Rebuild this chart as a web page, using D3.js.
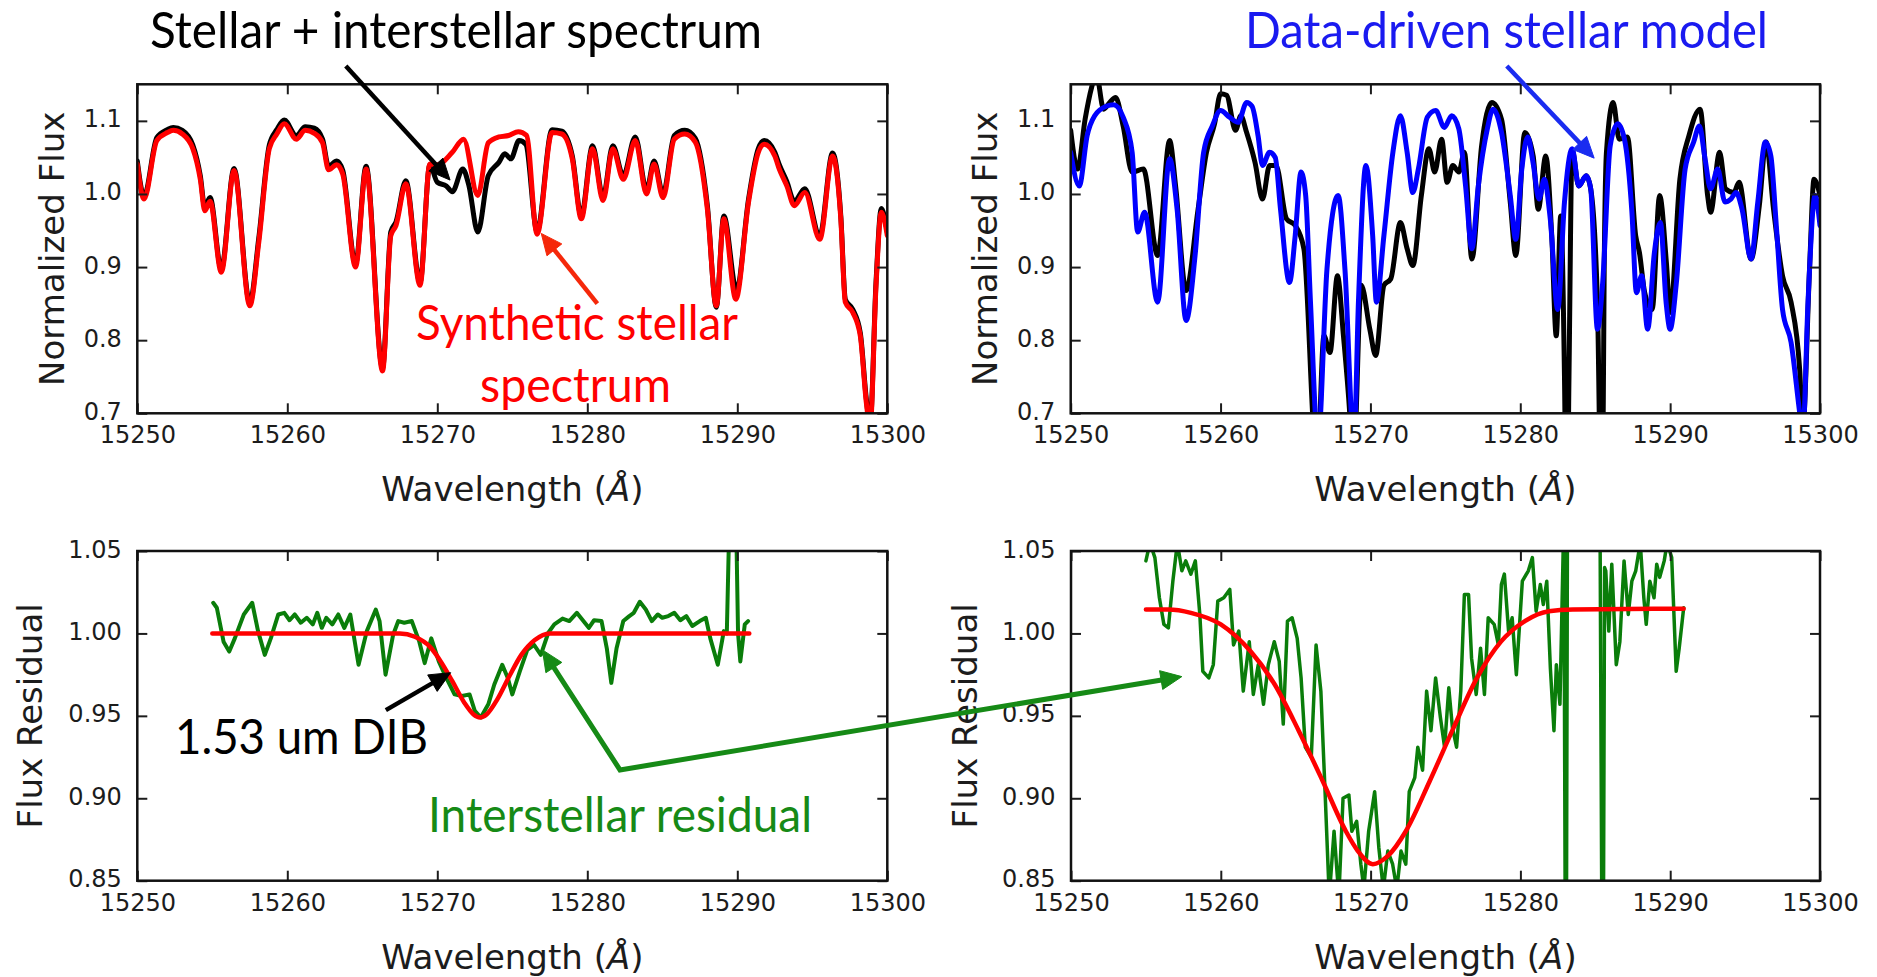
<!DOCTYPE html>
<html>
<head>
<meta charset="utf-8">
<script src="https://cdnjs.cloudflare.com/ajax/libs/d3/7.8.5/d3.min.js"></script>
<style>
  html, body { margin: 0; padding: 0; background: #ffffff; }
  svg { display: block; }
  .axis-title { font-family: "DejaVu Sans", sans-serif; font-size: 34px; fill: #1c1c1c; }
  .note { font-family: Lato, "Open Sans", sans-serif; font-weight: 400; }
</style>
</head>
<body>
<svg id="fig" width="1877" height="977"></svg>
<script>
// ---------------------------------------------------------------
// Wavelength axis shared by all four panels
const waveDomain = [15250, 15300];
const waveTicks = [15250, 15260, 15270, 15280, 15290, 15300];
const fluxTicks = [0.7, 0.8, 0.9, 1.0, 1.1];
const residTicks = [0.85, 0.90, 0.95, 1.00, 1.05];

// Panel A: observed stellar + interstellar spectrum (black) and synthetic stellar spectrum (red)
const observedA = [
  [15250.0,1.045],[15250.45,0.997],[15251.3,1.077],[15252.0,1.088],[15252.4,1.091],[15253.0,1.087],
  [15253.7,1.067],[15254.2,1.025],[15254.5,0.982],[15254.85,0.995],[15255.6,0.897],[15256.45,1.035],
  [15257.5,0.851],[15258.1,0.94],[15258.8,1.067],[15259.3,1.088],[15259.8,1.101],[15260.6,1.08],
  [15261.2,1.092],[15261.8,1.09],[15262.35,1.075],[15262.75,1.038],[15263.3,1.045],[15263.7,1.032],
  [15264.55,0.904],[15265.25,1.038],[15266.35,0.762],[15266.9,0.948],[15267.25,0.962],[15267.9,1.018],
  [15268.85,0.879],[15269.5,1.04],[15270.0,1.016],[15270.6,1.011],[15271.0,1.003],[15271.7,1.034],
  [15272.1,1.012],[15272.7,0.948],[15273.4,1.025],[15274.1,1.043],[15274.5,1.055],[15274.9,1.048],
  [15275.45,1.073],[15275.9,1.068],[15276.65,0.949],[15277.65,1.088],[15278.3,1.086],[15279.0,1.052],
  [15279.6,0.97],[15280.35,1.066],[15281.05,0.996],[15281.7,1.066],[15282.4,1.025],[15283.2,1.078],
  [15283.95,1.005],[15284.45,1.045],[15285.05,1.0],[15285.8,1.08],[15286.5,1.087],[15287.2,1.076],
  [15288.0,0.985],[15288.6,0.845],[15289.1,0.97],[15289.95,0.868],[15290.75,0.993],[15291.4,1.062],
  [15291.8,1.073],[15292.5,1.057],[15292.8,1.04],[15293.3,1.017],[15293.8,0.99],[15294.5,1.007],
  [15295.5,0.943],[15296.35,1.056],[15296.9,0.97],[15297.2,0.856],[15297.7,0.842],[15298.2,0.81],
  [15298.6,0.72],[15298.85,0.685],[15299.25,0.88],[15299.6,0.98],[15300.0,0.948]
];
const syntheticA = [
  [15250.0,1.041],[15250.45,0.993],[15251.3,1.073],[15252.0,1.084],[15252.4,1.087],[15253.0,1.082],
  [15253.7,1.062],[15254.2,1.02],[15254.5,0.977],[15254.85,0.99],[15255.6,0.893],[15256.45,1.032],
  [15257.5,0.847],[15258.1,0.934],[15258.8,1.062],[15259.3,1.082],[15259.8,1.096],[15260.6,1.075],
  [15261.2,1.087],[15261.8,1.083],[15262.35,1.07],[15262.75,1.033],[15263.3,1.04],[15263.7,1.027],
  [15264.55,0.90],[15265.25,1.034],[15266.35,0.758],[15266.9,0.943],[15267.25,0.957],[15267.9,1.014],
  [15268.85,0.875],[15269.5,1.041],[15270.0,1.04],[15271.0,1.057],[15271.75,1.075],[15272.7,0.998],
  [15273.4,1.07],[15274.1,1.078],[15274.75,1.08],[15275.4,1.085],[15275.95,1.08],[15276.65,0.945],
  [15277.65,1.084],[15278.3,1.082],[15279.0,1.048],[15279.6,0.966],[15280.35,1.062],[15281.05,0.991],
  [15281.7,1.062],[15282.4,1.02],[15283.2,1.073],[15283.95,1.0],[15284.45,1.041],[15285.05,0.995],
  [15285.8,1.075],[15286.5,1.082],[15287.2,1.071],[15288.0,0.98],[15288.6,0.847],[15289.1,0.966],
  [15289.9,0.856],[15290.75,0.989],[15291.4,1.057],[15291.8,1.068],[15292.5,1.052],[15292.8,1.034],
  [15293.3,1.011],[15293.8,0.984],[15294.5,1.002],[15295.5,0.938],[15296.35,1.052],[15296.9,0.966],
  [15297.2,0.852],[15297.7,0.838],[15298.2,0.806],[15298.6,0.715],[15298.85,0.68],[15299.25,0.875],
  [15299.6,0.975],[15300.0,0.943]
];

// Panel B: observed spectrum (black) and data-driven stellar model (blue)
const observedB = [
  [15250.0,1.087],[15250.46,1.034],[15250.96,1.102],[15251.4,1.146],[15251.7,1.165],[15252.2,1.116],
  [15252.6,1.125],[15253.0,1.132],[15253.5,1.093],[15254.1,1.03],[15254.85,1.034],[15255.8,0.916],
  [15256.6,1.073],[15257.0,1.011],[15257.7,0.868],[15258.5,0.979],[15259.06,1.057],[15259.6,1.096],
  [15260.0,1.137],[15260.4,1.135],[15261.0,1.087],[15261.35,1.107],[15261.74,1.084],[15262.3,1.043],
  [15262.8,0.993],[15263.27,1.039],[15263.7,1.039],[15264.4,0.966],[15264.98,0.957],[15265.56,0.925],
  [15266.14,0.70],[15266.4,0.60],[15266.9,0.806],[15267.3,0.783],[15267.8,0.888],[15268.2,0.806],
  [15268.62,0.70],[15268.85,0.62],[15269.39,0.875],[15269.96,0.815],[15270.35,0.779],[15270.9,0.875],
  [15271.36,0.884],[15272.0,0.961],[15272.45,0.925],[15272.83,0.902],[15273.4,0.998],[15273.9,1.062],
  [15274.29,1.03],[15274.75,1.075],[15275.12,1.016],[15275.5,1.039],[15275.9,1.03],[15276.27,1.057],
  [15276.77,0.911],[15277.42,1.066],[15278.1,1.125],[15278.75,1.102],[15279.33,0.989],[15279.7,0.916],
  [15280.3,1.084],[15280.86,1.052],[15281.2,0.979],[15281.7,1.052],[15282.1,0.943],[15282.4,0.806],
  [15282.7,0.97],[15282.95,0.75],[15283.1,0.50],[15283.25,0.75],[15283.46,1.06],[15283.9,1.011],
  [15284.4,1.025],[15284.7,1.007],[15285.15,0.85],[15285.45,0.50],[15285.6,0.90],[15285.75,1.057],
  [15286.2,1.125],[15286.6,1.075],[15287.15,1.078],[15287.7,0.943],[15287.95,0.92],[15288.3,0.865],
  [15288.8,0.842],[15289.3,0.998],[15289.75,0.906],[15290.0,0.838],[15290.65,1.02],[15291.26,1.08],
  [15292.0,1.116],[15292.5,0.998],[15292.7,0.975],[15293.3,1.057],[15293.7,1.007],[15294.25,1.002],
  [15294.6,1.016],[15295.4,0.911],[15295.95,0.984],[15296.4,1.071],[15296.9,0.979],[15297.5,0.888],
  [15298.07,0.852],[15298.65,0.758],[15298.85,0.68],[15299.3,0.897],[15299.6,1.02],[15300.0,0.998]
];
const modelB = [
  [15250.0,1.057],[15250.57,1.011],[15251.1,1.08],[15251.6,1.107],[15252.37,1.12],[15252.87,1.122],
  [15253.5,1.105],[15254.1,1.057],[15254.47,0.948],[15254.93,0.975],[15255.8,0.852],[15256.6,1.048],
  [15257.1,0.979],[15257.7,0.827],[15258.3,0.916],[15258.87,1.057],[15259.45,1.093],[15260.0,1.114],
  [15260.6,1.105],[15261.17,1.098],[15261.74,1.125],[15262.1,1.12],[15262.5,1.08],[15262.8,1.039],
  [15263.27,1.057],[15263.65,1.05],[15264.0,0.979],[15264.6,0.879],[15264.98,0.943],[15265.37,1.03],
  [15265.68,0.998],[15266.0,0.852],[15266.5,0.66],[15267.1,0.897],[15267.85,0.998],[15268.3,0.897],
  [15268.9,0.66],[15269.2,0.852],[15269.7,1.039],[15270.15,0.943],[15270.4,0.852],[15270.9,0.943],
  [15271.5,1.057],[15272.0,1.107],[15272.45,1.057],[15272.83,1.002],[15273.2,1.034],[15273.8,1.105],
  [15274.36,1.114],[15274.93,1.091],[15275.43,1.107],[15275.9,1.089],[15276.35,1.011],[15276.77,0.925],
  [15277.2,1.011],[15277.8,1.089],[15278.18,1.116],[15278.75,1.084],[15279.33,0.998],[15279.7,0.938],
  [15280.1,1.034],[15280.5,1.078],[15280.85,1.043],[15281.25,0.993],[15281.6,1.02],[15282.0,0.966],
  [15282.5,0.842],[15282.95,0.989],[15283.46,1.062],[15283.9,1.011],[15284.4,1.025],[15284.7,1.007],
  [15285.15,0.815],[15285.5,0.879],[15286.0,1.066],[15286.5,1.096],[15286.95,1.075],[15287.45,0.975],
  [15287.75,0.865],[15288.1,0.888],[15288.5,0.815],[15288.95,0.92],[15289.35,0.961],[15289.73,0.852],
  [15290.0,0.815],[15290.4,0.875],[15291.0,1.034],[15291.57,1.071],[15291.95,1.093],[15292.33,1.048],
  [15292.7,1.007],[15293.17,1.034],[15293.66,0.989],[15294.05,0.993],[15294.4,1.002],[15294.8,0.979],
  [15295.4,0.911],[15295.85,0.989],[15296.35,1.071],[15296.72,1.052],[15297.1,0.952],[15297.5,0.842],
  [15298.07,0.797],[15298.65,0.70],[15298.85,0.67],[15299.2,0.852],[15299.67,0.998],[15300.0,0.957]
];

// Panel C: residual after dividing by the synthetic spectrum, with the DIB fit
const residualC = [
  [15255.06,1.0186],[15255.3,1.0156],[15255.75,0.995],[15256.13,0.989],[15256.5,0.997],[15257.1,1.0115],
  [15257.66,1.0186],[15258.05,1.0014],[15258.5,0.987],[15258.9,0.997],[15259.4,1.0115],[15259.8,1.0125],
  [15260.15,1.008],[15260.5,1.0115],[15260.9,1.0065],[15261.3,1.0095],[15261.7,1.0055],[15262.0,1.0125],
  [15262.3,1.0034],[15262.6,1.0095],[15263.0,1.0055],[15263.4,1.0115],[15263.8,1.0034],[15264.2,1.0115],
  [15264.75,0.981],[15265.3,1.0014],[15265.9,1.0145],[15266.15,1.0075],[15266.55,0.975],[15267.05,0.999],
  [15267.4,1.0075],[15267.8,1.0065],[15268.3,1.0075],[15268.8,0.995],[15269.16,0.982],[15269.6,0.997],
  [15270.1,0.983],[15270.6,0.973],[15271.15,0.963],[15271.65,0.962],[15272.15,0.963],[15272.5,0.953],
  [15272.9,0.949],[15273.4,0.957],[15273.8,0.969],[15274.33,0.981],[15274.7,0.973],[15275.0,0.963],
  [15275.5,0.977],[15276.0,0.990],[15276.45,0.993],[15276.9,0.987],[15277.4,1.0004],[15277.8,1.0055],
  [15278.35,1.009],[15278.8,1.0075],[15279.3,1.0125],[15279.7,1.008],[15280.1,1.0034],[15280.45,1.008],
  [15280.95,1.0075],[15281.3,0.991],[15281.6,0.970],[15281.95,0.991],[15282.4,1.0075],[15282.8,1.0105],
  [15283.1,1.0125],[15283.5,1.0192],[15283.9,1.0145],[15284.3,1.0075],[15284.7,1.0115],[15285.0,1.0095],
  [15285.4,1.0105],[15285.8,1.0125],[15286.2,1.008],[15286.6,1.0105],[15287.0,1.0045],[15287.5,1.0075],
  [15287.9,1.0095],[15288.2,0.997],[15288.7,0.981],[15289.1,1.0014],[15289.3,1.0],[15289.5,1.08],
  [15289.9,1.08],[15290.05,1.0],[15290.2,0.983],[15290.5,1.0055],[15290.72,1.0075]
];
const dibFitC = [
  [15255.0,1.0],[15267.5,1.0],[15268.5,0.998],[15269.5,0.992],[15270.3,0.982],[15271.0,0.971],
  [15271.8,0.958],[15272.4,0.951],[15272.85,0.949],[15273.3,0.951],[15274.0,0.960],[15274.8,0.974],
  [15275.6,0.987],[15276.5,0.996],[15277.5,1.0],[15290.8,1.0]
];

// Panel D: residual after dividing by the data-driven model, with the DIB fit
const residualD = [
  [15255.0,1.044],[15255.27,1.055],[15255.6,1.046],[15255.9,1.0216],[15256.2,1.0055],[15256.5,1.0034],
  [15256.8,1.0317],[15257.1,1.055],[15257.4,1.038],[15257.66,1.044],[15258.0,1.036],[15258.3,1.044],
  [15258.6,1.0115],[15258.8,0.977],[15259.2,0.973],[15259.5,0.981],[15259.8,1.0196],[15260.2,1.0216],
  [15260.6,1.0267],[15260.85,0.993],[15261.2,1.0014],[15261.5,0.965],[15261.9,0.995],[15262.17,0.963],
  [15262.5,0.981],[15262.85,0.957],[15263.17,0.981],[15263.57,0.995],[15263.9,0.983],[15264.17,0.945],
  [15264.45,1.0075],[15264.76,1.0095],[15265.1,0.997],[15265.36,0.973],[15265.64,0.931],[15266.04,0.925],
  [15266.36,0.993],[15266.68,0.965],[15266.96,0.904],[15267.24,0.84],[15267.56,0.880],[15267.88,0.84],
  [15268.16,0.900],[15268.55,0.902],[15268.75,0.880],[15269.07,0.886],[15269.35,0.860],[15269.55,0.845],
  [15269.87,0.880],[15270.27,0.904],[15270.55,0.870],[15270.85,0.845],[15271.15,0.868],[15271.47,0.860],
  [15271.75,0.845],[15272.03,0.868],[15272.35,0.860],[15272.58,0.904],[15272.95,0.9125],[15273.15,0.931],
  [15273.47,0.917],[15273.74,0.965],[15274.03,0.941],[15274.34,0.973],[15274.66,0.949],[15274.94,0.931],
  [15275.22,0.967],[15275.46,0.943],[15275.74,0.931],[15276.02,0.965],[15276.26,1.0236],[15276.54,1.0236],
  [15276.74,0.985],[15277.05,0.963],[15277.34,0.991],[15277.6,0.963],[15277.85,1.0095],[15278.25,1.0055],
  [15278.53,0.993],[15278.73,1.0297],[15278.93,1.036],[15279.21,1.0014],[15279.45,1.0095],[15279.73,0.975],
  [15279.93,1.0034],[15280.13,1.0317],[15280.53,1.038],[15280.8,1.046],[15281.05,1.0135],[15281.33,1.0297],
  [15281.53,1.0176],[15281.76,1.0317],[15282.0,0.979],[15282.24,0.941],[15282.4,0.981],[15282.64,0.957],
  [15282.9,1.07],[15283.04,0.70],[15283.15,1.10],[15285.3,1.10],[15285.5,0.70],[15285.62,1.04],
  [15285.7,1.038],[15285.9,1.0014],[15286.1,1.042],[15286.4,0.981],[15286.64,0.995],[15286.92,1.044],
  [15287.2,1.0115],[15287.44,1.0317],[15287.7,1.038],[15288.0,1.055],[15288.24,1.0216],[15288.4,1.0055],
  [15288.64,1.0317],[15288.92,1.0216],[15289.1,1.042],[15289.3,1.034],[15289.6,1.044],[15289.8,1.055],
  [15290.1,1.046],[15290.4,0.977],[15290.6,0.991],[15290.9,1.0156]
];
const dibFitD = [
  [15255.0,1.0145],[15256.5,1.0145],[15258.0,1.0125],[15260.0,1.0055],[15262.0,0.989],[15263.6,0.969],
  [15265.2,0.941],[15266.8,0.9105],[15268.35,0.880],[15269.15,0.868],[15270.15,0.860],[15271.15,0.865],
  [15272.35,0.880],[15273.95,0.9105],[15275.55,0.943],[15277.1,0.973],[15278.7,0.995],[15280.3,1.0075],
  [15281.9,1.0135],[15283.5,1.0145],[15290.9,1.015]
];

// ---------------------------------------------------------------
// Layout of the four axes boxes
const panels = [
  { id: "A", left: 137.3, right: 887.3, top: 84.3, bottom: 413.3, yDomain: [0.7, 1.15],
    yTicks: fluxTicks, yFmt: ".1f", yTitle: "Normalized Flux", yTitleX: 64 },
  { id: "B", left: 1070.7, right: 1820, top: 84.3, bottom: 413.3, yDomain: [0.7, 1.15],
    yTicks: fluxTicks, yFmt: ".1f", yTitle: "Normalized Flux", yTitleX: 997 },
  { id: "C", left: 137.3, right: 887.3, top: 551, bottom: 880.7, yDomain: [0.85, 1.05],
    yTicks: residTicks, yFmt: ".2f", yTitle: "Flux Residual", yTitleX: 42 },
  { id: "D", left: 1071, right: 1820, top: 551, bottom: 880.7, yDomain: [0.85, 1.05],
    yTicks: residTicks, yFmt: ".2f", yTitle: "Flux Residual", yTitleX: 977 }
];

const series = [
  { panel: "A", data: observedA, color: "#000000", width: 5, curve: d3.curveMonotoneX },
  { panel: "A", data: syntheticA, color: "#ff0000", width: 5, curve: d3.curveMonotoneX },
  { panel: "B", data: observedB, color: "#000000", width: 5, curve: d3.curveMonotoneX },
  { panel: "B", data: modelB, color: "#0000ff", width: 5, curve: d3.curveMonotoneX },
  { panel: "C", data: residualC, color: "#0a7d0a", width: 4, curve: d3.curveLinear },
  { panel: "C", data: dibFitC, color: "#ff0000", width: 4.5, curve: d3.curveMonotoneX },
  { panel: "D", data: residualD, color: "#0a7d0a", width: 3.5, curve: d3.curveLinear },
  { panel: "D", data: dibFitD, color: "#ff0000", width: 4.5, curve: d3.curveMonotoneX }
];

const svg = d3.select("#fig");
const defs = svg.append("defs");
const scales = {};

panels.forEach(p => {
  const x = d3.scaleLinear().domain(waveDomain).range([p.left, p.right]);
  const y = d3.scaleLinear().domain(p.yDomain).range([p.bottom, p.top]);
  scales[p.id] = { x, y };

  defs.append("clipPath").attr("id", "clip" + p.id)
    .append("rect")
    .attr("x", p.left).attr("y", p.top)
    .attr("width", p.right - p.left).attr("height", p.bottom - p.top);

  const g = svg.append("g").attr("class", "panel-" + p.id);

  // spectra
  const plot = g.append("g").attr("clip-path", `url(#clip${p.id})`);
  series.filter(s => s.panel === p.id).forEach(s => {
    const line = d3.line().x(d => x(d[0])).y(d => y(d[1])).curve(s.curve);
    plot.append("path")
      .datum(s.data)
      .attr("d", line)
      .attr("fill", "none")
      .attr("stroke", s.color)
      .attr("stroke-width", s.width)
      .attr("stroke-linejoin", "round")
      .attr("stroke-linecap", "round");
  });

  // ticks pointing inward on all four sides
  const styleAxis = sel => {
    sel.attr("font-family", "DejaVu Sans, sans-serif").attr("font-size", 24).attr("color", "#1c1c1c");
    sel.select(".domain").remove();
    sel.selectAll(".tick line").attr("stroke-width", 2);
  };
  g.append("g").attr("transform", `translate(0,${p.bottom})`)
    .call(d3.axisBottom(x).tickValues(waveTicks).tickFormat(d3.format("d"))
      .tickSizeInner(-10).tickSizeOuter(0).tickPadding(13))
    .call(styleAxis);
  g.append("g").attr("transform", `translate(0,${p.top})`)
    .call(d3.axisTop(x).tickValues(waveTicks).tickFormat("")
      .tickSizeInner(-10).tickSizeOuter(0))
    .call(styleAxis);
  g.append("g").attr("transform", `translate(${p.left},0)`)
    .call(d3.axisLeft(y).tickValues(p.yTicks).tickFormat(d3.format(p.yFmt))
      .tickSizeInner(-10).tickSizeOuter(0).tickPadding(15.5))
    .call(styleAxis)
    .selectAll("text").attr("dy", "0.25em");
  g.append("g").attr("transform", `translate(${p.right},0)`)
    .call(d3.axisRight(y).tickValues(p.yTicks).tickFormat("")
      .tickSizeInner(-10).tickSizeOuter(0))
    .call(styleAxis);

  // frame
  g.append("rect")
    .attr("x", p.left).attr("y", p.top)
    .attr("width", p.right - p.left).attr("height", p.bottom - p.top)
    .attr("fill", "none").attr("stroke", "#111").attr("stroke-width", 2.5);

  // axis titles
  const xt = g.append("text").attr("class", "axis-title")
    .attr("x", (p.left + p.right) / 2).attr("y", p.bottom + 88)
    .attr("text-anchor", "middle");
  xt.append("tspan").text("Wavelength (");
  xt.append("tspan").attr("font-style", "italic").text("\u00C5");
  xt.append("tspan").text(")");

  g.append("text").attr("class", "axis-title")
    .attr("transform", `translate(${p.yTitleX},${(p.top + p.bottom) / 2}) rotate(-90)`)
    .attr("text-anchor", "middle")
    .text(p.yTitle);
});

// ---------------------------------------------------------------
// Annotations
const notes = [
  { text: "Stellar + interstellar spectrum", x: 150, y: 48, width: 612, size: 50, color: "#000000" },
  { text: "Data-driven stellar model", x: 1245, y: 48, width: 523, size: 50, color: "#1a1af0" },
  { text: "Synthetic stellar", x: 416, y: 340, width: 322, size: 48, color: "#ff0000" },
  { text: "spectrum", x: 480, y: 402, width: 191, size: 48, color: "#ff0000" },
  { text: "1.53 um DIB", x: 175, y: 754, width: 253, size: 49, color: "#000000" },
  { text: "Interstellar residual", x: 428, y: 832, width: 384, size: 48, color: "#168a16" }
];
const noteLayer = svg.append("g");
notes.forEach(n => {
  noteLayer.append("text").attr("class", "note")
    .attr("x", n.x).attr("y", n.y)
    .attr("font-size", n.size)
    .attr("fill", n.color)
    .attr("textLength", n.width)
    .attr("lengthAdjust", "spacingAndGlyphs")
    .text(n.text);
});

// arrow tail / tip given in each panel's own data coordinates
const arrows = [
  { panel: "A", from: [15263.9, 1.175], to: [15270.85, 1.019], color: "#000000" },
  { panel: "A", from: [15280.67, 0.850], to: [15276.93, 0.946], color: "#f5280a" },
  { panel: "B", from: [15279.1, 1.175], to: [15284.93, 1.049], color: "#1a2cf0" },
  { panel: "C", from: [15266.57, 0.9535], to: [15270.89, 0.9762], color: "#000000" }
];
const headLen = 21, headHalf = 9.5;

function toPx(panelId, pt) {
  const s = scales[panelId];
  return [s.x(pt[0]), s.y(pt[1])];
}
function arrowHead(layer, tail, tip, color) {
  const dx = tip[0] - tail[0], dy = tip[1] - tail[1];
  const len = Math.hypot(dx, dy);
  const ux = dx / len, uy = dy / len;
  const bx = tip[0] - ux * headLen, by = tip[1] - uy * headLen;
  layer.append("path")
    .attr("d", `M${tip[0]},${tip[1]}L${bx - uy * headHalf},${by + ux * headHalf}L${bx + uy * headHalf},${by - ux * headHalf}Z`)
    .attr("fill", color).attr("stroke", color).attr("stroke-width", 1).attr("stroke-linejoin", "miter");
  return [bx + ux * 2, by + uy * 2];
}
const arrowLayer = svg.append("g");
arrows.forEach(a => {
  const tail = toPx(a.panel, a.from), tip = toPx(a.panel, a.to);
  const base = arrowHead(arrowLayer, tail, tip, a.color);
  arrowLayer.append("path")
    .attr("d", d3.line()([tail, base]))
    .attr("fill", "none").attr("stroke", a.color).attr("stroke-width", 4.5);
});

// the residual label points into both lower panels from one elbow
const residualArrow = {
  elbow: ["C", [15282.18, 0.9172]],
  tips: [["C", [15277.01, 0.990]], ["D", [15257.4, 0.9738]]],
  color: "#168a16"
};
{
  const elbow = toPx(...residualArrow.elbow);
  const ends = residualArrow.tips.map(t => {
    const tip = toPx(...t);
    return arrowHead(arrowLayer, elbow, tip, residualArrow.color);
  });
  arrowLayer.append("path")
    .attr("d", d3.line()([ends[0], elbow, ends[1]]))
    .attr("fill", "none").attr("stroke", residualArrow.color)
    .attr("stroke-width", 5).attr("stroke-linejoin", "miter");
}
</script>
</body>
</html>
